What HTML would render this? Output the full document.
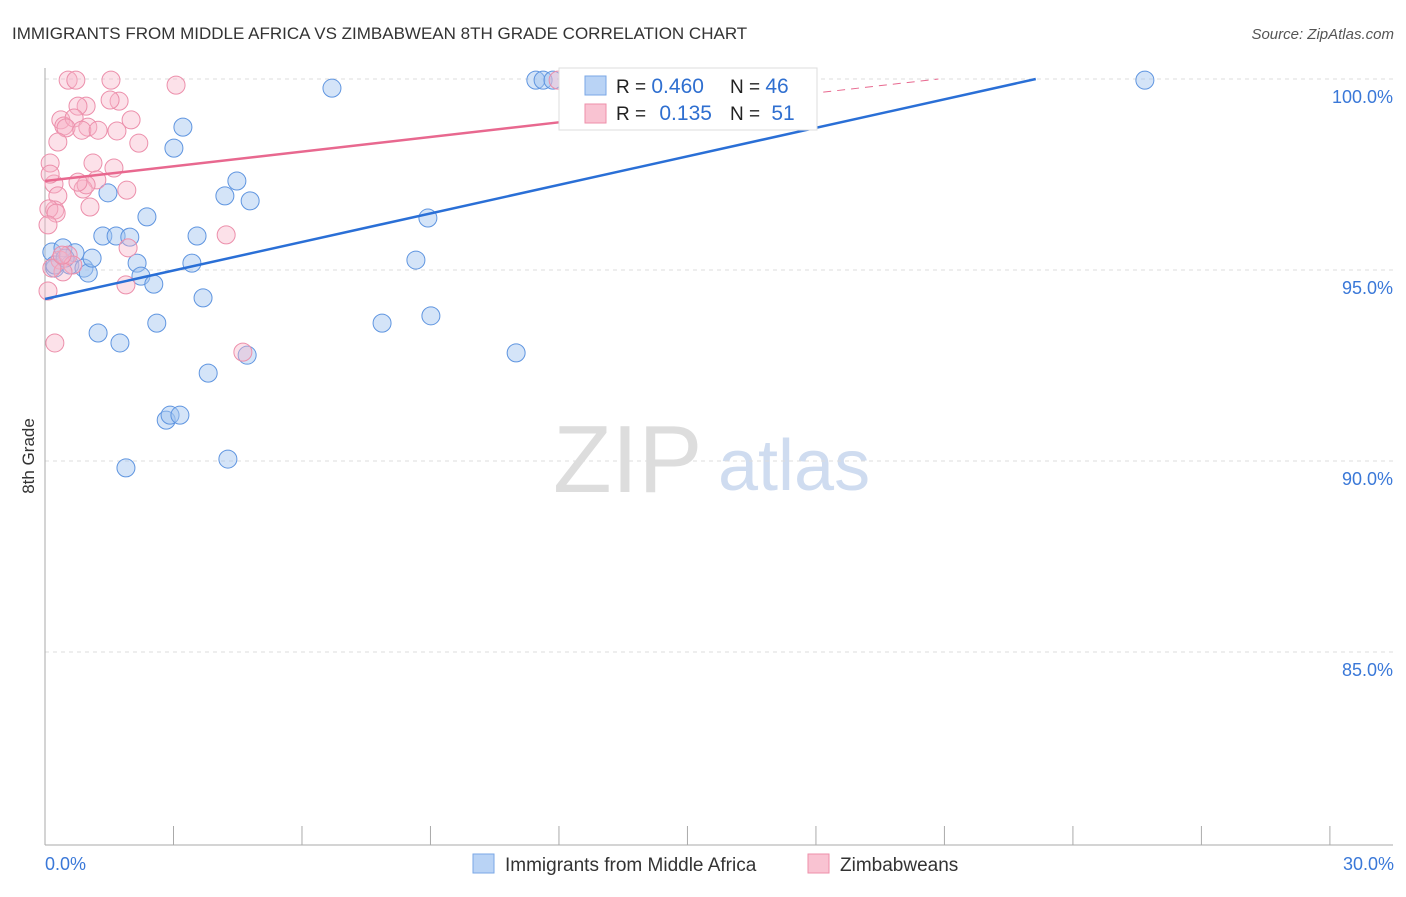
<!DOCTYPE html>
<html><head><meta charset="utf-8"><style>
body{margin:0;background:#fff;font-family:"Liberation Sans",sans-serif;}
svg text{font-family:"Liberation Sans",sans-serif;}
</style></head><body>
<svg id="c" width="1406" height="892">
<text x="12" y="39" font-size="17" fill="#333">IMMIGRANTS FROM MIDDLE AFRICA VS ZIMBABWEAN 8TH GRADE CORRELATION CHART</text>
<text x="1394" y="39" font-size="15" fill="#555" font-style="italic" text-anchor="end">Source: ZipAtlas.com</text>
<text x="34" y="456" font-size="17" fill="#333" transform="rotate(-90 34 456)" text-anchor="middle">8th Grade</text>
<text x="553" y="492" font-size="96" fill="#ddd" font-family="Liberation Serif">ZIP</text>
<text x="718" y="490" font-size="72" fill="#cfdcf0">atlas</text>
<g id="grid"></g><g id="pts"></g><g id="lines"></g>
<g>
<rect x="559" y="68" width="258" height="62" fill="#fff" stroke="#ddd"/>
<rect x="585" y="76" width="21" height="19" fill="#b9d3f5" stroke="#7aa7e6"/>
<rect x="585" y="104" width="21" height="19" fill="#f9c3d2" stroke="#ee8faa"/>
<text x="616" y="93" font-size="19" fill="#222">R = <tspan fill="#2f6fd0" font-size="21">0.460</tspan></text>
<text x="730" y="93" font-size="19" fill="#222">N = <tspan fill="#2f6fd0" font-size="21">46</tspan></text>
<text x="616" y="120" font-size="19" fill="#222">R = <tspan fill="#2f6fd0" font-size="21" dx="8">0.135</tspan></text>
<text x="730" y="120" font-size="19" fill="#222">N = <tspan fill="#2f6fd0" font-size="21" dx="6">51</tspan></text>
</g>
<g>
<rect x="473" y="854" width="21" height="19" fill="#b9d3f5" stroke="#7aa7e6"/>
<text x="505" y="871" font-size="19" fill="#333">Immigrants from Middle Africa</text>
<rect x="808" y="854" width="21" height="19" fill="#f9c3d2" stroke="#ee8faa"/>
<text x="840" y="871" font-size="19" fill="#333">Zimbabweans</text>
</g>
<text x="45" y="870" font-size="18" fill="#3a78d8">0.0%</text>
<text x="1394" y="870" font-size="18" fill="#3a78d8" text-anchor="end">30.0%</text>
</svg>
<script>
const yTicks=[100,95,90,85];
const yTickLabels=["100.0%","95.0%","90.0%","85.0%"];
const xTicks=[0,3,6,9,12,15,18,21,24,27,30];
const blueX=[0.16,0.23,0.42,0.58,0.70,0.91,1.01,1.10,1.24,1.35,1.47,1.66,1.75,1.89,1.98,2.15,2.24,2.38,2.54,2.61,2.83,2.92,3.01,3.15,3.22,3.43,3.55,3.69,3.81,4.20,4.27,4.48,4.72,4.79,6.70,7.87,8.66,8.94,9.01,11.00,11.46,11.63,11.86,25.68,0.23,0.47];
const blueY=[95.47,95.05,95.58,95.13,95.45,95.05,94.92,95.31,93.35,95.89,97.02,95.89,93.09,89.82,95.86,95.18,94.84,96.39,94.63,93.61,91.07,91.20,98.19,91.20,98.74,95.18,95.89,94.27,92.30,96.94,90.05,97.33,92.77,96.81,99.76,93.61,95.26,96.36,93.80,92.83,99.97,99.97,99.97,99.97,95.13,95.31];
const pinkX=[0.54,0.72,1.54,3.06,1.73,0.96,0.77,0.37,0.44,0.68,0.49,1.00,0.86,1.68,2.01,2.19,0.30,1.12,0.12,1.61,1.21,0.21,0.89,0.96,1.91,0.12,0.30,1.05,0.23,0.09,0.26,4.23,1.94,0.07,0.35,0.54,0.65,0.42,1.89,0.07,0.23,4.62,11.98,0.16,0.40,0.77,1.24,1.52];
const pinkY=[99.97,99.97,99.97,99.84,99.42,99.29,99.29,98.93,98.77,98.98,98.72,98.74,98.66,98.64,98.93,98.32,98.35,97.80,97.80,97.67,97.36,97.25,97.12,97.23,97.09,97.51,96.94,96.65,96.57,96.60,96.49,95.92,95.58,96.18,95.26,95.39,95.13,94.95,94.61,94.45,93.09,92.85,99.97,95.05,95.39,97.30,98.66,99.45];
const blueTrend=[94.24,0.249];
const pinkTrend=[97.33,0.128];
const NS="http://www.w3.org/2000/svg";
const X=v=>45+v*42.83, Y=v=>79+(100-v)*38.2;
function mk(t,a,p){const e=document.createElementNS(NS,t);for(const k in a)e.setAttribute(k,a[k]);p.appendChild(e);return e;}
const g=document.getElementById('grid');
yTicks.forEach((t,i)=>{
 const l=mk('line',{x1:45,x2:1393,y1:Y(t),y2:Y(t),stroke:'#ddd','stroke-dasharray':'4,4'},g);
 
 
 const tx=mk('text',{x:1393,y:Y(t)+24,'font-size':18,fill:'#3a78d8','text-anchor':'end'},g);
 tx.textContent=yTickLabels[i];
 
 
});
const ax=mk('line',{x1:45,x2:45,y1:68,y2:845,stroke:'#aaa'},g);


const bx=mk('line',{x1:45,x2:1393,y1:845,y2:845,stroke:'#aaa'},g);


xTicks.forEach(t=>{
 const l=mk('line',{x1:X(t),x2:X(t),y1:826,y2:845,stroke:'#aaa'},g);
 
 
});
const p=document.getElementById('pts');
blueX.forEach((v,i)=>{
 const c=mk('circle',{cx:X(v),cy:Y(blueY[i]),r:9,fill:'rgba(160,196,240,0.45)',stroke:'#5f95e0','stroke-width':1},p);
 
 
});
pinkX.forEach((v,i)=>{
 const c=mk('circle',{cx:X(v),cy:Y(pinkY[i]),r:9,fill:'rgba(248,180,200,0.4)',stroke:'#ec8fab','stroke-width':1},p);
 
 
});
const L=document.getElementById('lines');
const bxEnd=(100-blueTrend[0])/blueTrend[1];
const bl=mk('line',{x1:X(0),y1:Y(blueTrend[0]),x2:X(bxEnd),y2:Y(100),stroke:'#2a6fd6','stroke-width':2.5},L);


const pxMid=12, pxEnd=(100-pinkTrend[0])/pinkTrend[1];
const pl=mk('line',{x1:X(0),y1:Y(pinkTrend[0]),x2:X(pxMid),y2:Y(pinkTrend[0]+pinkTrend[1]*pxMid),stroke:'#e8688f','stroke-width':2.5},L);


const pd=mk('line',{x1:X(pxMid),y1:Y(pinkTrend[0]+pinkTrend[1]*pxMid),x2:X(pxEnd),y2:Y(100),stroke:'#e8688f','stroke-width':1,'stroke-dasharray':'8,6'},L);


</script>
</body></html>
